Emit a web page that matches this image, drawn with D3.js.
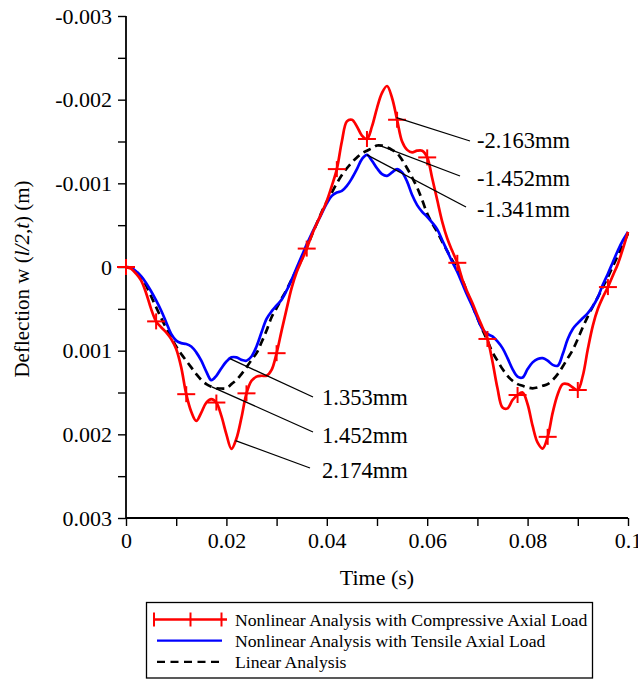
<!DOCTYPE html>
<html>
<head>
<meta charset="utf-8">
<script src="https://cdn.jsdelivr.net/npm/d3@7"></script>
<style>
  html, body { margin: 0; padding: 0; background: #fff; }
  svg { display: block; font-family: "Liberation Serif", "Times New Roman", serif; }
</style>
</head>
<body>
<svg id="chart" width="638" height="679"></svg>
<script>
// Time in milliseconds, one sample per millisecond
const timeMs = d3.range(0, 101);

// Mid-span deflection in mm (positive = downward), one value per time sample
const compressive = [
  0, 0.02, 0.08, 0.16, 0.31, 0.50, 0.65, 0.72, 0.78, 0.86,
  0.98, 1.20, 1.52, 1.73, 1.84, 1.74, 1.62, 1.58, 1.62, 1.78,
  2.00, 2.174, 2.05, 1.80, 1.51, 1.36, 1.31, 1.30, 1.30, 1.23,
  1.03, 0.76, 0.50, 0.25, 0.06, -0.08, -0.22, -0.38, -0.52, -0.65,
  -0.79, -0.97, -1.17, -1.50, -1.74, -1.76, -1.68, -1.57, -1.53, -1.68,
  -1.90, -2.08, -2.163, -2.02, -1.76, -1.50, -1.40, -1.37, -1.39, -1.39,
  -1.31, -1.06, -0.80, -0.54, -0.34, -0.19, -0.05, 0.15, 0.30, 0.43,
  0.58, 0.72, 0.86, 1.13, 1.45, 1.68, 1.69, 1.59, 1.53, 1.50,
  1.64, 1.90, 2.10, 2.17, 2.03, 1.74, 1.52, 1.40, 1.40, 1.44,
  1.47, 1.30, 0.98, 0.70, 0.50, 0.36, 0.24, 0.10, -0.04, -0.22,
  -0.42
];

const tensile = [
  0, 0.01, 0.05, 0.11, 0.19, 0.29, 0.40, 0.52, 0.66, 0.80,
  0.88, 0.91, 0.92, 0.95, 1.02, 1.12, 1.25, 1.353, 1.30, 1.21,
  1.13, 1.08, 1.08, 1.11, 1.12, 1.07, 0.95, 0.78, 0.62, 0.53,
  0.46, 0.39, 0.28, 0.15, 0.01, -0.13, -0.27, -0.40, -0.52, -0.64,
  -0.76, -0.85, -0.89, -0.91, -0.97, -1.06, -1.17, -1.29, -1.341, -1.27,
  -1.18, -1.11, -1.09, -1.13, -1.17, -1.13, -1.02, -0.86, -0.74, -0.66,
  -0.60, -0.53, -0.45, -0.32, -0.19, -0.06, 0.06, 0.20, 0.34, 0.47,
  0.61, 0.74, 0.80, 0.83, 0.89, 0.97, 1.09, 1.22, 1.31, 1.32,
  1.22, 1.14, 1.10, 1.09, 1.12, 1.17, 1.18, 1.04, 0.86, 0.74,
  0.67, 0.61, 0.55, 0.47, 0.36, 0.21, 0.08, -0.06, -0.20, -0.32,
  -0.42
];

const linear = [
  0, 0.01, 0.05, 0.12, 0.22, 0.35, 0.48, 0.61, 0.73, 0.84,
  0.95, 1.04, 1.12, 1.20, 1.28, 1.35, 1.40, 1.43, 1.45, 1.452,
  1.45, 1.40, 1.35, 1.28, 1.20, 1.11, 1.03, 0.90, 0.76, 0.60,
  0.49, 0.38, 0.27, 0.15, 0.03, -0.09, -0.23, -0.38, -0.52, -0.66,
  -0.78, -0.89, -1.00, -1.10, -1.18, -1.25, -1.31, -1.36, -1.39, -1.42,
  -1.452, -1.45, -1.43, -1.40, -1.36, -1.28, -1.18, -1.07, -0.95, -0.80,
  -0.64, -0.52, -0.42, -0.30, -0.19, -0.08, 0.02, 0.15, 0.31, 0.46,
  0.61, 0.75, 0.88, 1.02, 1.12, 1.22, 1.30, 1.36, 1.40, 1.42,
  1.44, 1.45, 1.44, 1.42, 1.40, 1.35, 1.28, 1.19, 1.09, 0.99,
  0.86, 0.72, 0.59, 0.47, 0.36, 0.24, 0.12, -0.01, -0.14, -0.27,
  -0.40
];

// Every sixth sample of the compressive series carries a "+" marker
const markerStep = 6;

// Axis ticks (deflection in m, time in s)
const yTicks = [-0.003, -0.0025, -0.002, -0.0015, -0.001, -0.0005, 0, 0.0005, 0.001, 0.0015, 0.002, 0.0025, 0.003];
const yTickLabels = ["-0.003", "", "-0.002", "", "-0.001", "", "0", "", "0.001", "", "0.002", "", "0.003"];
const xTicks = [0, 0.01, 0.02, 0.03, 0.04, 0.05, 0.06, 0.07, 0.08, 0.09, 0.1];
const xTickLabels = ["0", "", "0.02", "", "0.04", "", "0.06", "", "0.08", "", "0.1"];

// Peak annotations: series, sample index, label text, leader end and label anchor (px)
const annotations = [
  { series: "compressive", index: 53.9, text: "-2.163mm", tx: 470, ty: 141, lx: 477, ly: 148 },
  { series: "linear",      index: 50.6, text: "-1.452mm", tx: 460, ty: 176, lx: 477, ly: 186 },
  { series: "tensile",     index: 48,   text: "-1.341mm", tx: 466, ty: 207, lx: 477, ly: 217 },
  { series: "tensile",     index: 20.7, text: "1.353mm",  tx: 313, ty: 397, lx: 322, ly: 405 },
  { series: "linear",      index: 17.1, text: "1.452mm",  tx: 313, ty: 432, lx: 322, ly: 443 },
  { series: "compressive", index: 21.8, text: "2.174mm",  tx: 310, ty: 468, lx: 322, ly: 478 }
];

const seriesData = { compressive, tensile, linear };

const legendItems = [
  { key: "compressive", label: "Nonlinear Analysis with Compressive Axial Load" },
  { key: "tensile", label: "Nonlinear Analysis with Tensile Axial Load" },
  { key: "linear", label: "Linear Analysis" }
];

const styles = {
  compressive: { color: "#ff0000", dash: null },
  tensile: { color: "#0000ff", dash: null },
  linear: { color: "#000000", dash: "8,5" }
};

const svg = d3.select("#chart");
const plot = { left: 126, right: 628, top: 16, bottom: 518 };

const x = d3.scaleLinear().domain([0, 0.1]).range([plot.left, plot.right]);
const y = d3.scaleLinear().domain([-0.003, 0.003]).range([plot.top, plot.bottom]);

const tOf = i => i / 1000;           // ms -> s
const mOf = v => v / 1000;           // mm -> m

// Axes
const xAxis = d3.axisBottom(x)
  .tickValues(xTicks)
  .tickSize(8)
  .tickPadding(6)
  .tickFormat((d, i) => xTickLabels[i]);
const yAxis = d3.axisLeft(y)
  .tickValues(yTicks)
  .tickSize(8)
  .tickPadding(6)
  .tickFormat((d, i) => yTickLabels[i]);

const gx = svg.append("g").attr("transform", `translate(0,${plot.bottom})`).call(xAxis);
const gy = svg.append("g").attr("transform", `translate(${plot.left},0)`).call(yAxis);
[gx, gy].forEach(g => {
  g.select(".domain").attr("stroke", "#000").attr("stroke-width", 1.8);
  g.selectAll(".tick line").attr("stroke", "#000").attr("stroke-width", 1.4);
  g.selectAll(".tick text")
    .attr("fill", "#000")
    .style("font-family", "'Liberation Serif', serif")
    .style("font-size", "22px");
});
gx.select(".domain").attr("d", `M${plot.left},0H${plot.right}`);
gy.select(".domain").attr("d", `M0,${plot.top}V${plot.bottom}`);

// Axis titles
svg.append("text")
  .attr("x", 377).attr("y", 585)
  .attr("text-anchor", "middle")
  .style("font-size", "22px")
  .text("Time (s)");

const yTitle = svg.append("text")
  .attr("transform", "translate(29,279) rotate(-90)")
  .attr("text-anchor", "middle")
  .style("font-size", "21px");
yTitle.append("tspan").text("Deflection w (");
yTitle.append("tspan").style("font-style", "italic").text("l/2,t");
yTitle.append("tspan").text(") (m)");

// Curves
const line = d3.line()
  .x((d, i) => x(tOf(timeMs[i])))
  .y(d => y(mOf(d)))
  .curve(d3.curveCatmullRom.alpha(0.5));

svg.append("clipPath").attr("id", "plotClip")
  .append("rect")
  .attr("x", plot.left).attr("y", plot.top - 4)
  .attr("width", plot.right - plot.left + 4).attr("height", plot.bottom - plot.top + 8);

const curves = svg.append("g").attr("clip-path", "url(#plotClip)");

["linear", "tensile", "compressive"].forEach(key => {
  curves.append("path")
    .datum(seriesData[key])
    .attr("fill", "none")
    .attr("stroke", styles[key].color)
    .attr("stroke-width", 2.7)
    .attr("stroke-dasharray", styles[key].dash)
    .attr("d", line);
});

// "+" markers on the compressive series
const markerHalfW = 9, markerHalfH = 8;
const markerIdx = timeMs.filter(t => t % markerStep === 0);
const markers = svg.append("g").attr("stroke", "#ff0000").attr("stroke-width", 2);
markerIdx.forEach(i => {
  const cx = x(tOf(timeMs[i])), cy = y(mOf(compressive[i]));
  markers.append("line").attr("x1", cx - markerHalfW).attr("x2", cx + markerHalfW).attr("y1", cy).attr("y2", cy);
  markers.append("line").attr("x1", cx).attr("x2", cx).attr("y1", cy - markerHalfH).attr("y2", cy + markerHalfH);
});

// Annotation leader lines and labels
function valueAt(arr, idx) {
  const i0 = Math.floor(idx), i1 = Math.min(arr.length - 1, i0 + 1), f = idx - i0;
  return arr[i0] * (1 - f) + arr[i1] * f;
}
const ann = svg.append("g");
annotations.forEach(a => {
  const sx = x(tOf(a.index)), sy = y(mOf(valueAt(seriesData[a.series], a.index)));
  ann.append("line")
    .attr("x1", sx).attr("y1", sy).attr("x2", a.tx).attr("y2", a.ty)
    .attr("stroke", "#000").attr("stroke-width", 1.3);
  ann.append("text")
    .attr("x", a.lx).attr("y", a.ly)
    .style("font-size", "22.5px")
    .text(a.text);
});

// Legend
const legend = svg.append("g");
legend.append("rect")
  .attr("x", 146.5).attr("y", 602.5).attr("width", 446).attr("height", 75.5)
  .attr("fill", "#fff").attr("stroke", "#000").attr("stroke-width", 1.3);
legendItems.forEach((item, k) => {
  const ly = 619.5 + k * 21.2;
  const st = styles[item.key];
  const x1 = item.key === "compressive" ? 153 : 157;
  const x2 = item.key === "compressive" ? 227 : 222;
  legend.append("line")
    .attr("x1", x1).attr("x2", x2).attr("y1", ly).attr("y2", ly)
    .attr("stroke", st.color).attr("stroke-width", 2.3)
    .attr("stroke-dasharray", st.dash ? "8,5.5" : null);
  if (item.key === "compressive") {
    [154, 190.5, 221.5].forEach(mx => {
      legend.append("line")
        .attr("x1", mx).attr("x2", mx).attr("y1", ly - 7).attr("y2", ly + 7)
        .attr("stroke", st.color).attr("stroke-width", 2);
    });
  }
  legend.append("text")
    .attr("x", 235).attr("y", ly + 6)
    .style("font-size", "17.7px")
    .text(item.label);
});
</script>
</body>
</html>
